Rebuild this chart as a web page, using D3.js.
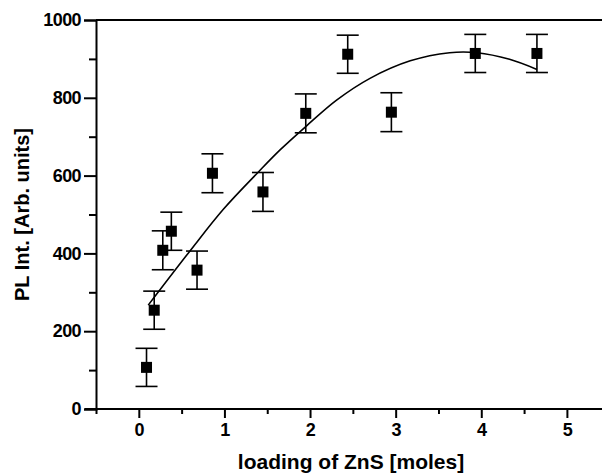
<!DOCTYPE html>
<html>
<head>
<meta charset="utf-8">
<script src="https://cdn.jsdelivr.net/npm/d3@7"></script>
<style>
  html, body { margin: 0; padding: 0; background: #fff; }
  svg { display: block; }
  text { font-family: "Liberation Sans", Arial, sans-serif; font-weight: bold; fill: #000; }
</style>
</head>
<body>
<svg id="chart" width="602" height="474"></svg>
<script>
const loading   = [0.09, 0.18, 0.28, 0.38, 0.68, 0.86, 1.45, 1.95, 2.44, 2.95, 3.93, 4.65];
const plInt     = [107, 254, 408, 457, 357, 606, 558, 760, 912, 763, 914, 914];
const errHalf   = [49, 49, 50, 49, 49, 50, 50, 50, 49, 50, 49, 49];
// Fitted curve, traced points
const fitX      = [0.11, 0.60, 0.99, 1.40, 1.65, 1.96, 2.31, 2.70, 3.17, 3.63, 3.95, 4.33, 4.65];
const fitY      = [267, 407, 514, 610, 666, 728, 794, 850, 895, 916, 916, 899, 873];
const xTicks    = [0, 1, 2, 3, 4, 5];
const xMinor    = [-0.5, 0.5, 1.5, 2.5, 3.5, 4.5];
const yTicks    = [0, 200, 400, 600, 800, 1000];
const yMinor    = [100, 300, 500, 700, 900];
const xTitle    = "loading of ZnS [moles]";
const yTitle    = "PL Int. [Arb. units]";

const svg = d3.select("#chart");
const x = d3.scaleLinear().domain([-0.5, 5.41]).range([96, 602]);
const y = d3.scaleLinear().domain([0, 1000]).range([409, 20]);

// top frame line
svg.append("line").attr("x1", x.range()[0]).attr("x2", x.range()[1])
  .attr("y1", y(1000)).attr("y2", y(1000)).attr("stroke", "#000").attr("stroke-width", 2);

// X axis
const xAxis = svg.append("g").attr("transform", `translate(0,${y(0)})`)
  .call(d3.axisBottom(x).tickValues(xTicks).tickFormat(d3.format("d")).tickSize(9).tickPadding(5));
svg.append("g").attr("transform", `translate(0,${y(0)})`)
  .call(d3.axisBottom(x).tickValues(xMinor).tickFormat("").tickSize(5))
  .call(g => g.select(".domain").remove());

// Y axis
const yAxis = svg.append("g").attr("transform", `translate(${x(-0.5)},0)`)
  .call(d3.axisLeft(y).tickValues(yTicks).tickFormat(d3.format("d")).tickSize(12).tickPadding(3));
svg.append("g").attr("transform", `translate(${x(-0.5)},0)`)
  .call(d3.axisLeft(y).tickValues(yMinor).tickFormat("").tickSize(7))
  .call(g => g.select(".domain").remove());

svg.selectAll(".domain").attr("stroke-width", 2);
svg.selectAll(".tick line").attr("stroke-width", 2);
svg.selectAll(".tick text").style("font-size", "18px").style("letter-spacing", "-0.6px")
  .style("font-family", "'Liberation Sans', Arial, sans-serif").style("font-weight", "bold");
xAxis.select(".domain").attr("d", `M${x.range()[0] - 11},0H${x.range()[1]}`);

// Fit curve
const line = d3.line().x(d => x(d[0])).y(d => y(d[1])).curve(d3.curveCatmullRom.alpha(0.5));
svg.append("path").datum(fitX.map((v, i) => [v, fitY[i]]))
  .attr("d", line).attr("fill", "none").attr("stroke", "#000").attr("stroke-width", 1.6);

// Error bars
const pts = loading.map((v, i) => ({ x: v, y: plInt[i], e: errHalf[i] }));
const eb = svg.append("g").attr("stroke", "#000").attr("stroke-width", 1.6);
eb.selectAll("line.v").data(pts).join("line").attr("class", "v")
  .attr("x1", d => x(d.x)).attr("x2", d => x(d.x))
  .attr("y1", d => y(d.y + d.e)).attr("y2", d => y(d.y - d.e));
eb.selectAll("line.t").data(pts).join("line").attr("class", "t")
  .attr("x1", d => x(d.x) - 11).attr("x2", d => x(d.x) + 11)
  .attr("y1", d => y(d.y + d.e)).attr("y2", d => y(d.y + d.e));
eb.selectAll("line.b").data(pts).join("line").attr("class", "b")
  .attr("x1", d => x(d.x) - 11).attr("x2", d => x(d.x) + 11)
  .attr("y1", d => y(d.y - d.e)).attr("y2", d => y(d.y - d.e));

// Markers
const s = 11;
svg.append("g").selectAll("rect").data(pts).join("rect")
  .attr("x", d => x(d.x) - s / 2).attr("y", d => y(d.y) - s / 2)
  .attr("width", s).attr("height", s).attr("fill", "#000");

// Titles
svg.append("text").attr("x", 351).attr("y", 469).attr("text-anchor", "middle")
  .style("font-size", "21px").text(xTitle);
svg.append("text").attr("transform", `translate(29,${(y(0) + y(1000)) / 2}) rotate(-90)`)
  .attr("text-anchor", "middle").style("font-size", "20px").text(yTitle);
</script>
</body>
</html>
